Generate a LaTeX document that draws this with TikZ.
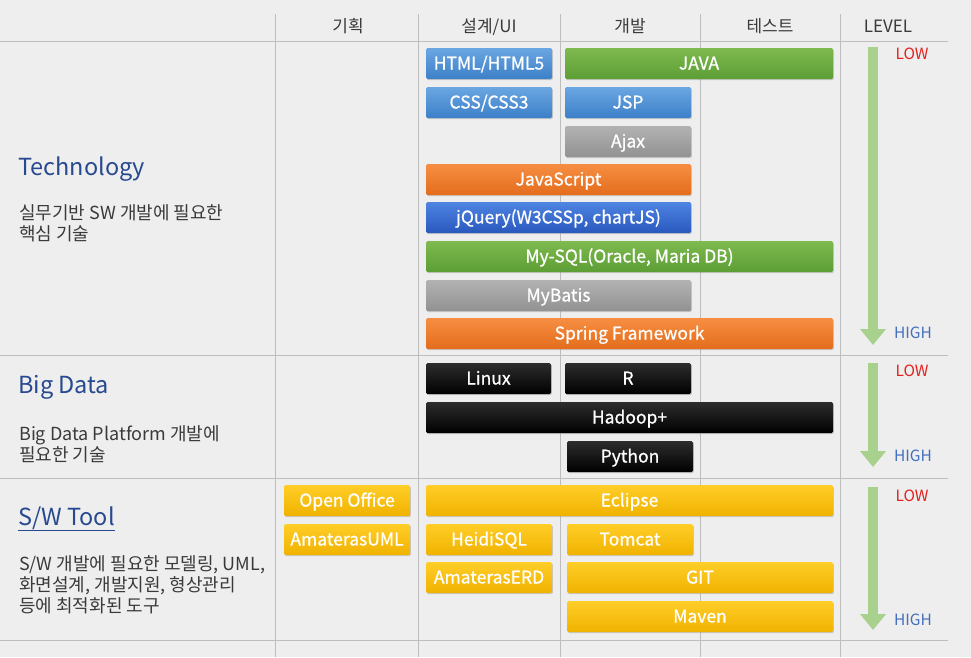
\documentclass[tikz,border=0pt]{standalone}
\usepackage{fontspec}
\setmainfont{Noto Sans CJK KR}
\newfontfamily\skillfont{Noto Sans CJK KR}[FakeBold=0.8]
\usetikzlibrary{arrows.meta,shadows}
\usepackage{xcolor}
\definecolor{pagebg}{HTML}{EEEEEE}
\definecolor{gridgray}{HTML}{BDBDBD}
\definecolor{titleblue}{HTML}{27498F}
\definecolor{desctext}{HTML}{3A3A3A}
\definecolor{levelgreen}{HTML}{A9D18E}
\definecolor{lowred}{HTML}{E3211D}
\definecolor{highblue}{HTML}{4470C0}
\definecolor{bluetop}{HTML}{6AA6E2}
\definecolor{bluebot}{HTML}{3D80C8}
\definecolor{dbluetop}{HTML}{4E84E2}
\definecolor{dbluebot}{HTML}{2A58BE}
\definecolor{greentop}{HTML}{7EBA50}
\definecolor{greenbot}{HTML}{5C9E34}
\definecolor{graytop}{HTML}{B2B2B2}
\definecolor{graybot}{HTML}{929292}
\definecolor{orangetop}{HTML}{F68E42}
\definecolor{orangebot}{HTML}{E46C1C}
\definecolor{blacktop}{HTML}{2D2D2D}
\definecolor{goldtop}{HTML}{FFCE28}
\definecolor{goldbot}{HTML}{F0B200}
\tikzset{
  gridline/.style={draw=gridgray,line width=1pt},
  colhead/.style={anchor=base,text=desctext,font=\fontsize{17}{17}\selectfont},
  secttitle/.style={anchor=base west,inner sep=0pt,text=titleblue,font=\fontsize{23.5}{24}\selectfont},
  sectdesc/.style={anchor=base west,inner sep=0pt,align=left,text=desctext,font=\fontsize{18}{21}\selectfont},
  skill/.style={rectangle,rounded corners=1.5pt,minimum height=31pt,inner sep=0pt,
    text height=13pt,text depth=1pt,text=white,font=\skillfont\fontsize{17.5}{17.5}\selectfont,
    drop shadow={shadow xshift=0.8pt,shadow yshift=-1.2pt,opacity=0.35}},
  bluebox/.style={skill,top color=bluetop,bottom color=bluebot},
  darkbluebox/.style={skill,top color=dbluetop,bottom color=dbluebot},
  greenbox/.style={skill,top color=greentop,bottom color=greenbot},
  graybox/.style={skill,top color=graytop,bottom color=graybot},
  orangebox/.style={skill,top color=orangetop,bottom color=orangebot},
  blackbox/.style={skill,top color=blacktop,bottom color=black},
  goldbox/.style={skill,top color=goldtop,bottom color=goldbot},
  levelarrow/.style={draw=levelgreen,line width=10pt,-{Triangle[width=25pt,length=16pt]}},
  lowlabel/.style={text=lowred,font=\fontsize{15.5}{16}\selectfont},
  highlabel/.style={text=highblue,font=\fontsize{15.5}{16}\selectfont},
}

\begin{document}
\begin{tikzpicture}[x=1pt,y=-1pt]

\fill[pagebg] (0,0) rectangle (971,657);
\useasboundingbox (0,0) rectangle (971,657);

% grid
\foreach \gx in {275,418,560,700,840}
  \draw[gridline] (\gx,14) -- (\gx,657);
\foreach \gy in {41,355,478,640}
  \draw[gridline] (0,\gy) -- (948,\gy);

% column heads
\node[colhead] (hplan) at (348,32) {기획};
\node[colhead] (hdesign) at (489,32) {설계/UI};
\node[colhead] (hdev) at (630,32) {개발};
\node[colhead] (htest) at (770,32) {테스트};
\node[colhead] (hlevel) at (888,32) {LEVEL};

% sections (desc nodes sit on the baseline of their last line)
\node[secttitle] (techtitle) at (18,175) {Technology};
\node[sectdesc] (techdesc) at (19,240) {실무기반 SW 개발에 필요한\\핵심 기술};
\node[secttitle] (bigtitle) at (18,393) {Big Data};
\node[sectdesc] (bigdesc) at (19,461) {Big Data Platform 개발에\\필요한 기술};
\node[secttitle] (tooltitle) at (18,525) {\underline{S/W Tool}};
\node[sectdesc] (tooldesc) at (19,612) {S/W 개발에 필요한 모델링, UML,\\화면설계, 개발지원, 형상관리\\등에 최적화된 도구};

% technology
\node[bluebox,minimum width=126pt] (html) at (489,63.5) {HTML/HTML5};
\node[greenbox,minimum width=268pt] (java) at (699,63.5) {JAVA};
\node[bluebox,minimum width=126pt] (css) at (489,102.5) {CSS/CSS3};
\node[bluebox,minimum width=126pt] (jsp) at (628,102.5) {JSP};
\node[graybox,minimum width=126pt] (ajax) at (628,141.5) {Ajax};
\node[orangebox,minimum width=265pt] (js) at (558.5,179.5) {JavaScript};
\node[darkbluebox,minimum width=265pt] (jquery) at (558.5,217.5) {jQuery(W3CSSp, chartJS)};
\node[greenbox,minimum width=407pt] (mysql) at (629.5,256.5) {My-SQL(Oracle, Maria DB)};
\node[graybox,minimum width=265pt] (mybatis) at (558.5,295.5) {MyBatis};
\node[orangebox,minimum width=407pt] (spring) at (629.5,333.5) {Spring Framework};

% big data
\node[blackbox,minimum width=125pt] (linux) at (488.5,378.5) {Linux};
\node[blackbox,minimum width=126pt] (rlang) at (628,378.5) {R};
\node[blackbox,minimum width=407pt] (hadoop) at (629.5,417.5) {Hadoop+};
\node[blackbox,minimum width=126pt] (python) at (630,456.5) {Python};

% tools
\node[goldbox,minimum width=126pt] (office) at (347,500.5) {Open Office};
\node[goldbox,minimum width=407pt] (eclipse) at (629.5,500.5) {Eclipse};
\node[goldbox,minimum width=126pt] (auml) at (347,539.5) {AmaterasUML};
\node[goldbox,minimum width=126pt] (heidi) at (489,539.5) {HeidiSQL};
\node[goldbox,minimum width=126pt] (tomcat) at (630,539.5) {Tomcat};
\node[goldbox,minimum width=126pt] (aerd) at (489,577.5) {AmaterasERD};
\node[goldbox,minimum width=266pt] (git) at (700,577.5) {GIT};
\node[goldbox,minimum width=266pt] (maven) at (700,616.5) {Maven};

% level arrows
\coordinate (techlow) at (873,47);
\coordinate (techhigh) at (873,345);
\coordinate (biglow) at (873,363);
\coordinate (bighigh) at (873,467);
\coordinate (toollow) at (873,487);
\coordinate (toolhigh) at (873,630);
\draw[levelarrow] (techlow) -- (techhigh);
\draw[levelarrow] (biglow) -- (bighigh);
\draw[levelarrow] (toollow) -- (toolhigh);
\node[lowlabel] (techlowtxt) at (912,54) {LOW};
\node[highlabel] (techhightxt) at (913,333) {HIGH};
\node[lowlabel] (biglowtxt) at (912,371) {LOW};
\node[highlabel] (bighightxt) at (913,456) {HIGH};
\node[lowlabel] (toollowtxt) at (912,496) {LOW};
\node[highlabel] (toolhightxt) at (913,620) {HIGH};

\end{tikzpicture}
\end{document}
